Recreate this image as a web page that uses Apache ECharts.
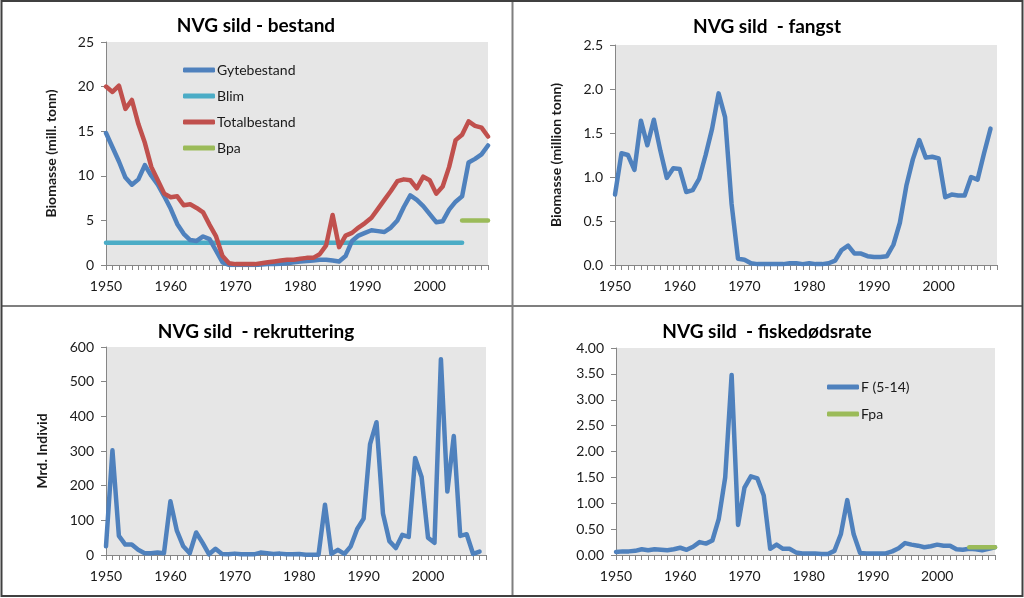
<!DOCTYPE html>
<html>
<head>
<meta charset="utf-8">
<script src="https://cdn.jsdelivr.net/npm/echarts@6/dist/echarts.min.js"></script>
<style>
html,body{margin:0;padding:0;background:#fff;}
#c{width:1024px;height:598px;}
</style>
</head>
<body>
<div id="c"></div>
<script>
var years = ['1950','1951','1952','1953','1954','1955','1956','1957','1958','1959',
'1960','1961','1962','1963','1964','1965','1966','1967','1968','1969',
'1970','1971','1972','1973','1974','1975','1976','1977','1978','1979',
'1980','1981','1982','1983','1984','1985','1986','1987','1988','1989',
'1990','1991','1992','1993','1994','1995','1996','1997','1998','1999',
'2000','2001','2002','2003','2004','2005','2006','2007','2008','2009'];

var gytebestand = [14.8,13.2,11.6,9.8,9.0,9.6,11.2,10.0,9.0,7.7,
6.3,4.6,3.5,2.8,2.7,3.2,2.9,1.6,0.3,0.0,
0.0,0.0,0.0,0.0,0.05,0.1,0.1,0.15,0.2,0.3,
0.4,0.45,0.5,0.6,0.6,0.5,0.4,1.0,2.7,3.3,
3.6,3.9,3.8,3.7,4.2,5.0,6.5,7.8,7.3,6.6,
5.7,4.8,4.9,6.2,7.1,7.7,11.5,11.9,12.4,13.4];

var totalbestand = [20.0,19.4,20.1,17.5,18.5,15.8,13.7,11.0,9.5,8.0,
7.6,7.7,6.7,6.8,6.4,5.9,4.5,3.2,1.0,0.2,
0.1,0.1,0.1,0.1,0.2,0.3,0.4,0.5,0.6,0.6,
0.7,0.8,0.8,1.2,2.2,5.6,2.0,3.3,3.6,4.2,
4.7,5.3,6.3,7.3,8.3,9.4,9.6,9.5,8.6,9.9,
9.5,8.0,8.8,11.0,14.0,14.6,16.1,15.6,15.4,14.4];

var blimValue = 2.5, blimFrom = 1950, blimTo = 2005;
var bpaValue = 5.0, bpaFrom = 2005, bpaTo = 2009;

var fangst = [0.80,1.27,1.25,1.08,1.64,1.36,1.65,1.30,0.99,1.10,
1.09,0.83,0.85,0.98,1.25,1.55,1.95,1.68,0.70,0.07,
0.06,0.02,0.01,0.01,0.01,0.01,0.01,0.02,0.02,0.01,
0.02,0.01,0.01,0.02,0.05,0.17,0.22,0.13,0.13,0.10,
0.09,0.09,0.10,0.23,0.48,0.90,1.20,1.42,1.22,1.23,
1.21,0.77,0.80,0.79,0.79,1.00,0.97,1.27,1.55,null];

var rekruttering = [25,302,55,30,30,15,5,5,7,5,
155,70,25,5,65,35,2,18,3,2,
4,2,2,2,7,5,3,4,2,2,
3,1,1,1,145,3,15,3,25,75,
105,320,383,120,40,20,58,52,280,225,
50,35,565,183,343,55,60,3,10,null];

var fiskedod = [0.06,0.07,0.07,0.08,0.11,0.09,0.11,0.10,0.09,0.11,
0.14,0.10,0.16,0.25,0.22,0.28,0.70,1.50,3.48,0.58,
1.30,1.52,1.48,1.15,0.12,0.20,0.12,0.12,0.05,0.03,
0.03,0.03,0.02,0.02,0.08,0.40,1.06,0.40,0.04,0.03,
0.03,0.03,0.03,0.07,0.13,0.23,0.20,0.18,0.15,0.17,
0.20,0.18,0.18,0.11,0.10,0.12,0.11,0.09,0.12,0.15];

var fpaValue = 0.15, fpaFrom = 2005, fpaTo = 2009;

function refLine(v, a, b) {
  return years.map(function (y) { var n = +y; return (n >= a && n <= b) ? v : null; });
}

var FONT = 'Lato, Carlito, Calibri, sans-serif';
var AX = '#868686';
var C_BLUE = '#4F81BD', C_RED = '#C0504D', C_CYAN = '#4BACC6', C_GREEN = '#9BBB59';

var grids = [
  {left:106, top:42, width:382, height:223},
  {left:615, top:45, width:382, height:220},
  {left:106, top:347, width:380, height:208},
  {left:616, top:348, width:379, height:207}
];

function xAxis(i) {
  return {
    type:'category', gridIndex:i, data:years, boundaryGap:false,
    axisLine:{lineStyle:{color:AX, width:1}},
    axisTick:{show:true, interval:0, length:5, lineStyle:{color:AX}},
    axisLabel:{interval:9, color:'#1a1a1a', fontFamily:FONT, fontSize:14, margin:14},
    splitLine:{show:false}
  };
}
function yAxis(i, max, interval, dec, name, gap) {
  return {
    type:'value', gridIndex:i, min:0, max:max, interval:interval,
    name:name || '', nameLocation:'middle', nameGap:gap || 40,
    nameTextStyle:{fontFamily:FONT, fontSize:14, fontWeight:'bold', color:'#1a1a1a'},
    axisLine:{show:true, lineStyle:{color:AX, width:1}},
    axisTick:{show:true, length:5, lineStyle:{color:AX}},
    axisLabel:{color:'#1a1a1a', fontFamily:FONT, fontSize:14, margin:12,
      formatter:function(v){ return v.toFixed(dec); }},
    splitLine:{show:false}
  };
}
function line(name, data, color, xi, z) {
  return {
    name:name, type:'line', xAxisIndex:xi, yAxisIndex:xi, data:data,
    showSymbol:false, symbol:'none', connectNulls:false, z: z || 2,
    lineStyle:{color:color, width:4.5, cap:'round', join:'round'},
    itemStyle:{color:color}, animation:false
  };
}
function titleText(x, y, t) {
  return {type:'text', x:x, y:y, z:10,
    style:{text:t, fill:'#000', font:'bold 19px ' + FONT, textAlign:'center', textVerticalAlign:'middle'}};
}

var option = {
  animation:false,
  backgroundColor:'#fff',
  grid: grids.map(function(g){ return Object.assign({show:true, backgroundColor:'#e6e6e6', borderWidth:0, containLabel:false}, g); }),
  xAxis:[xAxis(0), xAxis(1), xAxis(2), xAxis(3)],
  yAxis:[
    yAxis(0, 25, 5, 0, 'Biomasse (mill. tonn)', 48),
    yAxis(1, 2.5, 0.5, 1, 'Biomasse (million tonn)', 52),
    yAxis(2, 600, 100, 0, 'Mrd. Individ', 57),
    yAxis(3, 4, 0.5, 2, '', 40)
  ],
  legend:[
    {orient:'vertical', left:183, top:62, padding:0, itemWidth:32, itemHeight:5, itemGap:10, icon:'roundRect',
      data:['Gytebestand','Blim','Totalbestand','Bpa'],
      textStyle:{fontFamily:FONT, fontSize:14, color:'#1a1a1a', lineHeight:16, padding:[0,0,0,-3]}},
    {orient:'vertical', left:827, top:379, padding:0, itemWidth:32, itemHeight:5, itemGap:11, icon:'roundRect',
      data:['F (5-14)','Fpa'],
      textStyle:{fontFamily:FONT, fontSize:14, color:'#1a1a1a', lineHeight:16, padding:[0,0,0,-3]}}
  ],
  series:[
    line('Gytebestand', gytebestand, C_BLUE, 0, 3),
    line('Blim', refLine(blimValue, blimFrom, blimTo), C_CYAN, 0, 2),
    line('Totalbestand', totalbestand, C_RED, 0, 4),
    line('Bpa', refLine(bpaValue, bpaFrom, bpaTo), C_GREEN, 0, 2),
    line('fangst', fangst, C_BLUE, 1),
    line('rekruttering', rekruttering, C_BLUE, 2),
    line('F (5-14)', fiskedod, C_BLUE, 3, 2),
    line('Fpa', refLine(fpaValue, fpaFrom, fpaTo), C_GREEN, 3, 3)
  ],
  graphic:[
    titleText(256, 26, 'NVG sild - bestand'),
    titleText(767, 27, 'NVG sild  - fangst'),
    titleText(256, 332, 'NVG sild  - rekruttering'),
    titleText(767, 332, 'NVG sild  - fiskedødsrate'),
    {type:'line', z:20, shape:{x1:512.5, y1:1, x2:512.5, y2:596}, style:{stroke:'#7f7f7f', lineWidth:2}},
    {type:'line', z:20, shape:{x1:1, y1:306, x2:1022, y2:306}, style:{stroke:'#7f7f7f', lineWidth:2}},
    {type:'rect', z:21, shape:{x:1.5, y:1, width:1021, height:595}, style:{fill:'none', stroke:'#404040', lineWidth:2}}
  ]
};

var chart = echarts.init(document.getElementById('c'), null, {renderer:'canvas'});
chart.setOption(option);
</script>
</body>
</html>
